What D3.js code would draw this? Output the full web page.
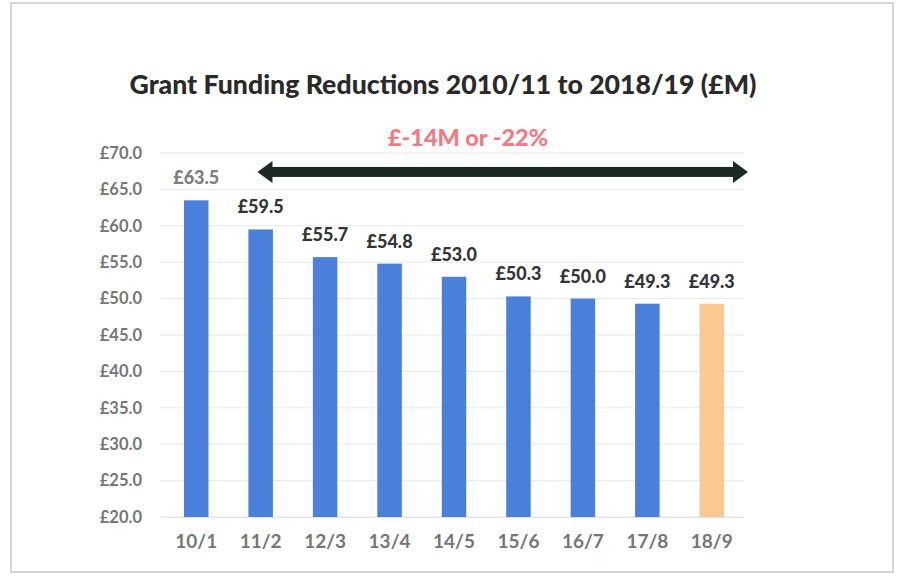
<!DOCTYPE html>
<html>
<head>
<meta charset="utf-8">
<script src="https://cdn.jsdelivr.net/npm/d3@7"></script>
<style>
  body { margin: 0; background: #fff; }
  text { font-family: Lato, "Open Sans", sans-serif; }
</style>
</head>
<body>
<div class="chart"></div>
<script>
const years = ["10/1", "11/2", "12/3", "13/4", "14/5", "15/6", "16/7", "17/8", "18/9"];
const funding = [63.5, 59.5, 55.7, 54.8, 53.0, 50.3, 50.0, 49.3, 49.3];
const yTicks = [20, 25, 30, 35, 40, 45, 50, 55, 60, 65, 70];
const chartTitle = "Grant Funding Reductions 2010/11 to 2018/19 (£M)";
const changeNote = "£-14M or -22%";

const width = 898, height = 578;
const margin = { top: 153, right: 154, bottom: 61, left: 164 };

const svg = d3.select(".chart")
  .append("svg")
  .attr("width", width)
  .attr("height", height);

// scanned page frame
svg.append("rect")
  .attr("x", 11).attr("y", 3)
  .attr("width", 882).attr("height", 569)
  .attr("fill", "none")
  .attr("stroke", "#d4d4d4")
  .attr("stroke-width", 2);

const x = d3.scaleBand()
  .domain(years)
  .range([margin.left, width - margin.right])
  .paddingInner(0.62)
  .paddingOuter(0.31);

const y = d3.scaleLinear()
  .domain([20, 70])
  .range([height - margin.bottom, margin.top]);

// gridlines
svg.append("g")
  .selectAll("line")
  .data(yTicks)
  .join("line")
  .attr("x1", margin.left - 4)
  .attr("x2", width - margin.right)
  .attr("y1", d => y(d))
  .attr("y2", d => y(d))
  .attr("stroke", "#e8e8e8")
  .attr("stroke-width", 1);

// y axis labels
svg.append("g")
  .attr("transform", `translate(${margin.left - 19},0)`)
  .call(d3.axisLeft(y).tickValues(yTicks).tickSize(0).tickFormat(d => "£" + d.toFixed(1)))
  .call(g => g.select(".domain").remove())
  .selectAll("text")
  .attr("fill", "#767676")
  .attr("font-size", 16.5)
  .attr("font-weight", "bold");

// x axis labels
svg.append("g")
  .attr("transform", `translate(0,${height - margin.bottom})`)
  .call(d3.axisBottom(x).tickSize(0).tickPadding(18))
  .call(g => g.select(".domain").attr("stroke", "#e2e2e2"))
  .selectAll("text")
  .attr("fill", "#767676")
  .attr("font-size", 19)
  .attr("font-weight", "bold");

// bars
svg.append("g")
  .selectAll("rect")
  .data(years)
  .join("rect")
  .attr("x", d => x(d))
  .attr("y", (d, i) => y(funding[i]))
  .attr("width", x.bandwidth())
  .attr("height", (d, i) => y(20) - y(funding[i]))
  .attr("fill", (d, i) => i === years.length - 1 ? "#fbc891" : "#4a7fdc");

// value labels
svg.append("g")
  .selectAll("text")
  .data(years)
  .join("text")
  .attr("x", d => x(d) + x.bandwidth() / 2)
  .attr("y", (d, i) => y(funding[i]) - 16)
  .attr("text-anchor", "middle")
  .attr("font-size", 18)
  .attr("font-weight", "900")
  .attr("fill", (d, i) => i === 0 ? "#7d7d7d" : "#353535")
  .text((d, i) => "£" + funding[i].toFixed(1));

// double-headed arrow across 11/2 .. 18/9
const ay = y(67.4);
const ax1 = x(years[1]) + 9;
const ax2 = width - margin.right + 4;
const arrow = svg.append("g").attr("fill", "#1c2a24");
arrow.append("rect")
  .attr("x", ax1 + 12).attr("y", ay - 5)
  .attr("width", ax2 - ax1 - 24).attr("height", 10);
arrow.append("path")
  .attr("d", `M${ax1},${ay} L${ax1 + 15},${ay - 11} L${ax1 + 15},${ay + 11} Z`);
arrow.append("path")
  .attr("d", `M${ax2},${ay} L${ax2 - 15},${ay - 11} L${ax2 - 15},${ay + 11} Z`);

// title
svg.append("text")
  .attr("x", 443)
  .attr("y", 94)
  .attr("text-anchor", "middle")
  .attr("font-size", 26)
  .attr("font-weight", "900")
  .attr("fill", "#2a2a2a")
  .attr("textLength", 627)
  .attr("lengthAdjust", "spacingAndGlyphs")
  .text(chartTitle);

// change note
svg.append("text")
  .attr("x", 468)
  .attr("y", 146)
  .attr("text-anchor", "middle")
  .attr("font-size", 22)
  .attr("font-weight", "900")
  .attr("fill", "#f37a84")
  .attr("textLength", 160)
  .attr("lengthAdjust", "spacingAndGlyphs")
  .text(changeNote);
</script>
</body>
</html>
